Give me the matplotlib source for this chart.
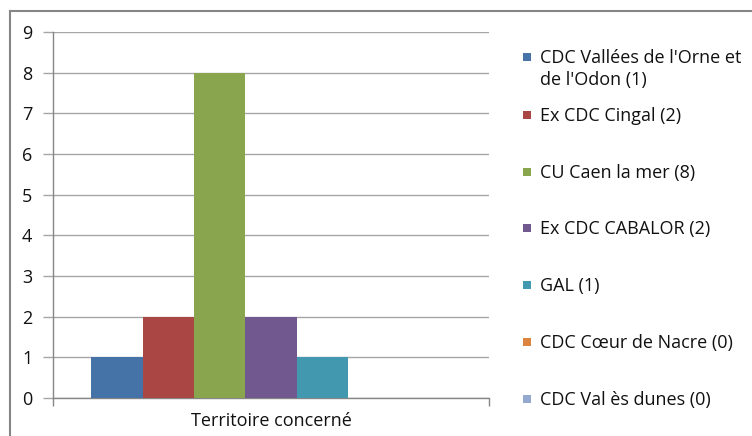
import matplotlib
matplotlib.use("Agg")
import matplotlib.pyplot as plt
from matplotlib.patches import Rectangle
from matplotlib.lines import Line2D

plt.rcParams['font.family'] = ['Open Sans', 'DejaVu Sans']

category = "Territoire concerné"
series_names = ["CDC Vallées de l'Orne et\nde l'Odon (1)", "Ex CDC Cingal (2)", "CU Caen la mer (8)",
                "Ex CDC CABALOR (2)", "GAL (1)", "CDC Cœur de Nacre (0)", "CDC Val ès dunes (0)"]
values = [1, 2, 8, 2, 1, 0, 0]
colors = ["#4572A7", "#AA4643", "#89A54E", "#71588F", "#4198AF", "#DB843D", "#93A9CF"]
yticks = list(range(0, 10))

W, H = 752, 436
FS = 13
fig = plt.figure(figsize=(W / 100, H / 100), dpi=100)
ax = fig.add_axes([53 / W, 1 - 398 / H, (489 - 53) / W, (398 - 32) / H])

n = len(values)
gap = 1.5
bw = 1.0 / (n + gap)
start = -0.5 + gap * bw / 2
for i, (v, c) in enumerate(zip(values, colors)):
    ax.bar(start + i * bw, v, width=bw, align='edge', color=c, edgecolor='none', zorder=3)

ax.set_xlim(-0.5, 0.5)
ax.set_ylim(0, 9)
ax.set_yticks(yticks)
ax.set_yticklabels([str(t) for t in yticks], fontsize=FS, color='#111111')
ax.grid(axis='y', color='#A6A6A6', linewidth=1.0, zorder=0)
ax.set_xticks([-0.5, 0.5])
ax.set_xticklabels(['', ''])
ax.tick_params(axis='x', direction='out', length=6, color='#868686', width=1)
ax.tick_params(axis='y', direction='out', length=7, color='#A6A6A6', width=1, pad=8)
for s in ['top', 'right']:
    ax.spines[s].set_visible(False)
for s in ['left', 'bottom']:
    ax.spines[s].set_color('#868686')
    ax.spines[s].set_linewidth(1.0)
fig.text(271 / W, 1 - 421 / H, category, ha='center', va='center',
         fontsize=FS, color='#111111')

# legend
leg_y = [57, 115, 172, 228, 285, 342, 399]
for name, c, yy in zip(series_names, colors, leg_y):
    fig.patches.append(Rectangle((523 / W, 1 - (yy + 4) / H), 8 / W, 8 / H,
                                 transform=fig.transFigure, facecolor=c, edgecolor='none'))
    fig.text(540 / W, 1 - (yy - 8) / H, name, ha='left', va='top', fontsize=FS,
             color='#111111', linespacing=1.25)

# chart border (partially outside)
fig.lines.append(Line2D([10 / W, 10 / W], [0, 1 - 11 / H], transform=fig.transFigure,
                        color='#868686', linewidth=1.5))
fig.lines.append(Line2D([10 / W, 1], [1 - 11 / H, 1 - 11 / H], transform=fig.transFigure,
                        color='#868686', linewidth=1.5))

fig.savefig("out.png", dpi=100)
